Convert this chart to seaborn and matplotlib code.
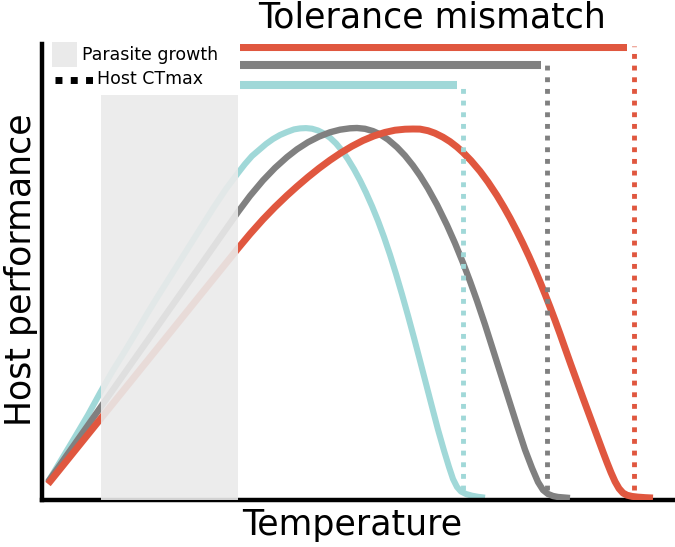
import numpy as np
import pandas as pd
import matplotlib
matplotlib.use("Agg")
import matplotlib.pyplot as plt
import seaborn as sns
from matplotlib.patches import Rectangle
from matplotlib.lines import Line2D

# === Data (arbitrary temperature / performance units) ===
teal_temp = [48, 60, 75, 88, 100, 112, 125, 137, 147, 158, 170, 180, 190, 202, 214, 226, 238,
             245, 252, 259, 266, 273, 280, 287, 294, 300, 306, 312, 318, 324, 330, 336, 342,
             348, 354, 360, 366, 372, 378, 384, 390, 396, 402, 408, 414, 420, 426, 432, 438,
             444, 449, 453, 457, 461, 466, 472, 478, 485]
teal_perf = [18, 38, 63, 85, 107, 128, 149, 169, 186, 204, 223, 239, 255, 274, 293, 311, 327,
             336, 344, 350, 356, 361, 365, 368, 370.6, 371.6, 371.9, 371.3, 369.5, 366.5, 362.3,
             356.6, 349.4, 340.7, 330.8, 319.7, 307.4, 293.9, 279.2, 263, 245.3, 226.1, 205.7,
             184.4, 162.2, 139.4, 116.3, 93.2, 70.4, 49.4, 33, 21, 13, 8.5, 6, 4.3, 3.2, 2.3]

gray_temp = [48, 60, 75, 88, 100, 116, 133, 150, 167, 184, 200, 218, 238, 250, 263, 275, 287,
             297, 308, 319, 330, 340, 350, 357, 365, 373, 380, 388, 397, 405, 413, 420, 428,
             437, 447, 455, 463, 470, 477, 485, 490, 500, 510, 517, 525, 532, 538, 543, 548,
             553, 558, 564, 570]
gray_perf = [18, 35, 56.4, 74.8, 91.9, 114.6, 138.8, 162.9, 187.1, 211.2, 233.9, 259.6, 288,
             304.1, 319.6, 332.1, 342.9, 350.7, 357.8, 363.4, 367.7, 370.3, 371.7, 372, 371.2,
             368.9, 365.7, 360.5, 352.8, 344.4, 334.4, 324.4, 311.5, 295.2, 274.8, 256.8, 237.2,
             218.8, 199.2, 175.4, 159.7, 128.2, 96.7, 74.7, 50.3, 32, 18, 10, 6, 4, 3, 2.5, 2]

red_temp = [48, 75, 100, 125, 150, 175, 197, 218, 238, 250, 263, 275, 287, 297, 308, 319, 330,
            341, 352, 363, 374, 385, 395, 405, 413, 420, 428, 435, 443, 450, 457, 463, 471, 480,
            488, 497, 504, 510, 517, 523, 529, 535, 540, 545, 550, 555, 560, 565, 571, 577, 583,
            588, 593, 598, 603, 607, 611, 615, 619, 623, 627, 632, 638, 645, 653]
red_perf = [16, 49.5, 80.5, 111.5, 142.5, 173.5, 200.8, 226.8, 251.6, 266, 280.6, 293, 304.5,
            313.5, 322.9, 331.7, 339.8, 347.2, 353.8, 359.5, 364.1, 367.6, 369.8, 370.8, 371,
            370.9, 369.3, 366.8, 362.8, 358.4, 353, 347.6, 339.4, 328.8, 318, 304.4, 292.7, 282,
            268.6, 256.4, 243.6, 230, 218.2, 205.9, 193.1, 179.8, 166.1, 151.9, 135, 118.5, 102,
            88.5, 75, 61.5, 48, 37.5, 27.5, 18.5, 11.5, 7, 4.8, 3.6, 2.9, 2.4, 2]

ctmax = [463, 547, 634]          # host CTmax (teal, gray, red)
ctmax_top = [417, 437, 454]
mismatch_start = 240
mismatch_end = [457, 541, 627]
mismatch_level = [415, 435, 453]

parasite_range = [101, 238]
parasite_top = 405

colors = ["#a0d8d8", "#808080", "#e0573f"]
widths = [4.4, 4.6, 5.0]

# === Plot ===
sns.set_style("white")
plt.rcParams["font.family"] = ["DejaVu Sans"]
plt.rcParams["text.color"] = "black"

fig = plt.figure(figsize=(6.75, 5.47), dpi=100)
ax = fig.add_axes([42 / 675, 47 / 547, 631 / 675, 456 / 547])

curves = [(teal_temp, teal_perf), (gray_temp, gray_perf), (red_temp, red_perf)]
for (t, p), c, w, z in zip(curves, colors, widths, [2, 3, 4]):
    sns.lineplot(x=t, y=p, ax=ax, color=c, lw=w, sort=False, estimator=None, zorder=z)
for line in ax.get_lines():
    line.set_solid_capstyle("butt")
    line.set_solid_joinstyle("round")

# parasite growth window sits on top of the curves
ax.add_patch(Rectangle((parasite_range[0], 0), parasite_range[1] - parasite_range[0], parasite_top,
                       facecolor="#eaeaea", edgecolor="none", alpha=0.9, zorder=6))

# CTmax dotted lines
for x, top, c in zip(ctmax, ctmax_top, colors):
    ax.vlines(x, 10, top, colors=c, lw=3.5, linestyles=(0, (1, 1.4)), zorder=5)

# tolerance mismatch bars
for y, x1, c in zip(mismatch_level, mismatch_end, colors):
    ax.hlines(y, mismatch_start, x1, colors=c, lw=5.8, zorder=5)

ax.set_xlim(42, 673)
ax.set_ylim(0, 456)
ax.set_xticks([])
ax.set_yticks([])
for s in ["top", "right"]:
    ax.spines[s].set_visible(False)
for s in ["left", "bottom"]:
    ax.spines[s].set_linewidth(3.2)
    ax.spines[s].set_color("black")

# === Text ===
fig.text(432 / 675, 1 - 28 / 547, "Tolerance mismatch", fontsize=25, ha="center", va="baseline")
fig.text(352 / 675, 1 - 535 / 547, "Temperature", fontsize=25, ha="center", va="baseline")
fig.text(21 / 675, 1 - 270 / 547, "Host performance", fontsize=25, rotation=90,
         ha="center", va="center")

# === Legend (drawn by hand) ===
fig.patches.append(Rectangle((52 / 675, 1 - 67 / 547), 25 / 675, 25 / 547,
                             transform=fig.transFigure, facecolor="#eaeaea", edgecolor="none"))
fig.text(82 / 675, 1 - 55 / 547, "Parasite growth", fontsize=12.5, ha="left", va="center")
fig.lines.append(Line2D([55 / 675, 93 / 675], [1 - 79.5 / 547, 1 - 79.5 / 547],
                        transform=fig.transFigure, color="black", lw=5,
                        linestyle=(0, (1, 1.2)), dash_capstyle="butt"))
fig.text(97 / 675, 1 - 79 / 547, "Host CTmax", fontsize=12.5, ha="left", va="center")

fig.savefig("out.png", dpi=100)
